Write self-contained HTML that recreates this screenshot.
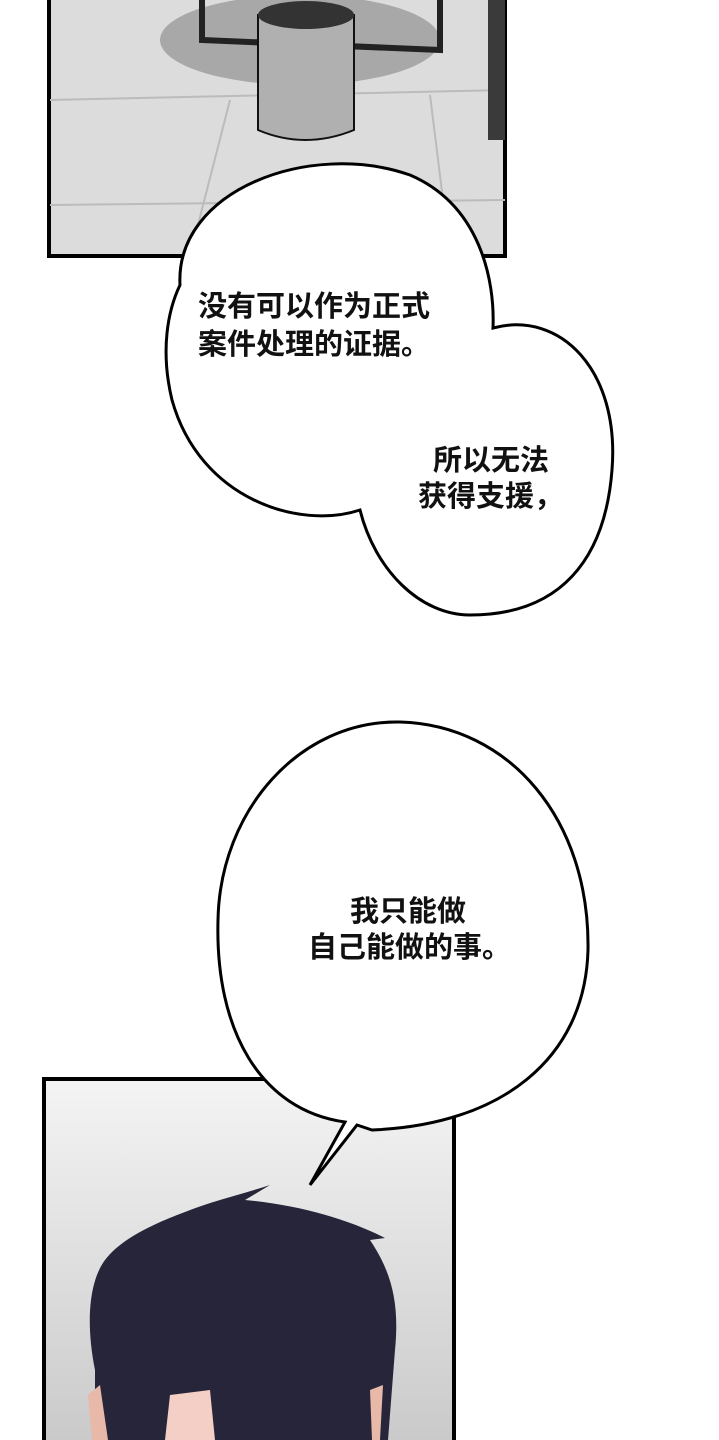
<!DOCTYPE html>
<html><head><meta charset="utf-8"><style>
html,body{margin:0;padding:0;background:#fff;}
body{width:719px;height:1440px;position:relative;overflow:hidden;}
svg{position:absolute;left:0;top:0;}
.t{position:absolute;font-family:"Liberation Sans","Noto Sans CJK SC",sans-serif;font-size:29px;font-weight:bold;line-height:38px;color:#111;white-space:nowrap;}
</style></head><body>
<svg width="719" height="1440" viewBox="0 0 719 1440">
<defs>
<linearGradient id="g1" x1="0" y1="0" x2="0" y2="1"><stop offset="0" stop-color="#f4f4f4"/><stop offset="1" stop-color="#c9c9c9"/></linearGradient>
</defs>
<rect x="49" y="-5" width="456" height="261" fill="#dcdcdc" stroke="#000" stroke-width="4"/>
<ellipse cx="300" cy="40" rx="140" ry="45" fill="#a8a8a8"/>
<path d="M50 100 L505 90 M50 205 L505 200 M230 100 L190 256 M430 95 L450 256" stroke="#bbb" stroke-width="2" fill="none"/>
<path d="M202 0 L202 40 L440 50 L440 0" stroke="#222" stroke-width="6" fill="none"/>
<rect x="488" y="0" width="17" height="140" fill="#3a3a3a"/>
<path d="M258 15 L258 130 Q305 150 354 130 L354 15 Z" fill="#b0b0b0" stroke="#111" stroke-width="2"/>
<ellipse cx="306" cy="15" rx="48" ry="14" fill="#333"/>
<path d="M180 285 C175 190 310 140 410 175 C480 205 495 280 493 328 C560 310 620 370 612 470 C605 560 560 615 470 615 C420 615 375 570 360 510 C300 530 200 500 172 400 C160 350 168 310 180 285 Z" fill="#fff" stroke="#000" stroke-width="3"/>
<rect x="44" y="1079" width="410" height="370" fill="url(#g1)" stroke="#000" stroke-width="4"/>
<path d="M95 1440 L95 1370 C85 1320 90 1280 105 1260 C120 1240 150 1225 185 1212 C215 1200 240 1195 270 1185 L245 1200 C300 1205 350 1220 385 1238 L370 1240 C390 1270 400 1300 395 1350 L388 1440 Z" fill="#26253a"/>
<path d="M88 1395 L100 1385 L108 1440 L92 1440 Z" fill="#e8b8a8"/>
<path d="M383 1385 L370 1390 L372 1440 L380 1440 Z" fill="#e8b8a8"/>
<path d="M165 1440 L170 1395 L210 1390 L215 1440 Z" fill="#f3cfc6"/>
<path d="M400 722 C510 725 590 820 588 950 C585 1060 500 1125 372 1130 L357 1125 L310 1185 L345 1122 C260 1110 215 1030 218 920 C220 810 300 720 400 722 Z" fill="#fff" stroke="#000" stroke-width="3"/>
</svg>
<div class="t" style="left:198px;top:288px;">没有可以作为正式<br>案件处理的证据。</div>
<div class="t" style="left:433px;top:442px;">所以无法</div>
<div class="t" style="left:418px;top:478px;">获得支援，</div>
<div class="t" style="left:350px;top:893px;">我只能做</div>
<div class="t" style="left:308px;top:929px;">自己能做的事。</div>
</body></html>
